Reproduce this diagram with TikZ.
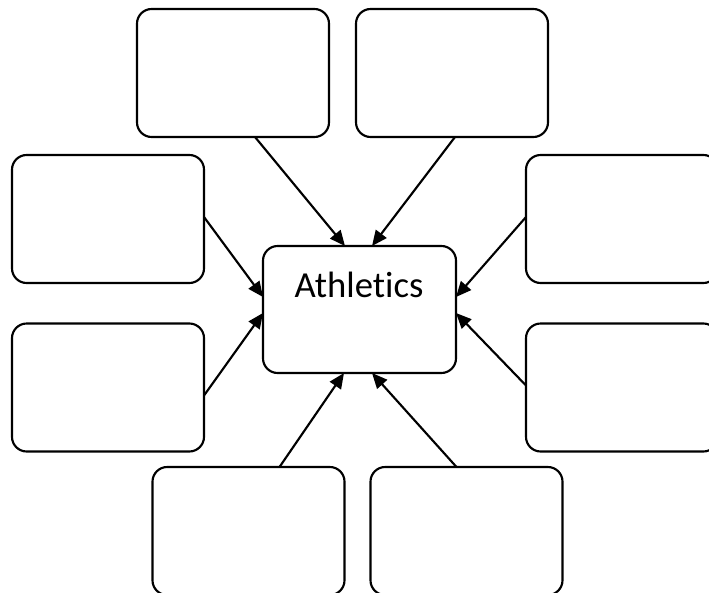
\documentclass[tikz,border=0pt]{standalone}
\usepackage{fontspec}
\setmainfont[Ligatures=NoCommon]{Carlito}
\usetikzlibrary{arrows.meta,calc}
\begin{document}
\begin{tikzpicture}[x=0.75pt,y=-0.75pt,
  box/.style={draw=black,line width=1.6pt,rounded corners=11pt,fill=white,
    minimum width=144pt,minimum height=96pt,inner sep=0pt,outer sep=0pt},
  link/.style={line width=1.6pt,-{Triangle[length=11.5pt,width=10pt]}}]
\useasboundingbox (0,0) rectangle (709,592);
\clip (0,0) rectangle (709,592);
\node[box] (tl) at (233,73) {};
\node[box] (tr) at (452,73) {};
\node[box] (lu) at (108,219) {};
\node[box] (ll) at (108,387.5) {};
\node[box] (ru) at (622,219) {};
\node[box] (rl) at (622,387.5) {};
\node[box] (bl) at (248.5,531) {};
\node[box] (br) at (466.5,531) {};
\node[box,minimum width=144.75pt,minimum height=95.25pt] (c) at (359.5,309.5) {};
\node[font=\fontsize{27.5}{32}\selectfont,inner sep=0pt] (t) at (359,285) {Athletics};
\draw[link] ($(tl.south west)+(118,0)$) -- ($(c.north west)+(82,0)$);
\draw[link] ($(tr.south west)+(99,0)$) -- ($(c.north west)+(109,0)$);
\draw[link] ($(lu.north east)+(0,62)$) -- ($(c.north west)+(0,51)$);
\draw[link] ($(ll.north east)+(0,72)$) -- ($(c.north west)+(0,67)$);
\draw[link] ($(ru.north west)+(0,62)$) -- ($(c.north east)+(0,51)$);
\draw[link] ($(rl.north west)+(0,62)$) -- ($(c.north east)+(0,67)$);
\draw[link] ($(bl.north west)+(127,0)$) -- ($(c.south west)+(81,0)$);
\draw[link] ($(br.north west)+(86,0)$) -- ($(c.south west)+(109,0)$);
\end{tikzpicture}
\end{document}
